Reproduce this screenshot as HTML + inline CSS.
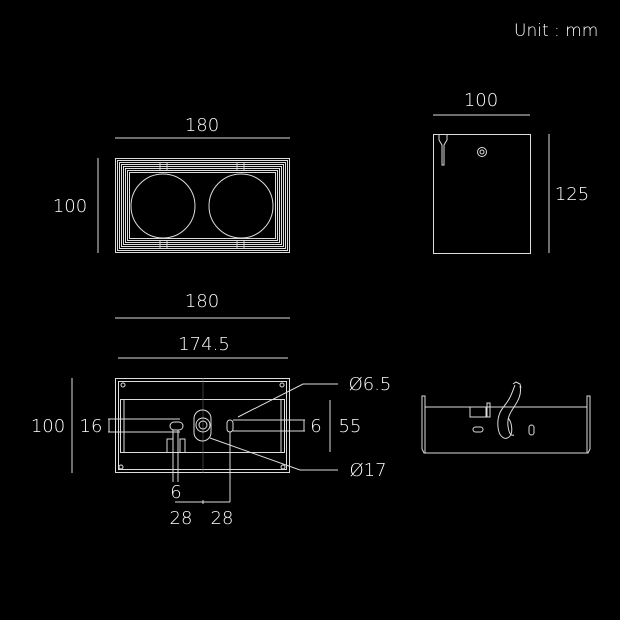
<!DOCTYPE html>
<html><head><meta charset="utf-8"><style>
html,body{margin:0;padding:0;background:#000;}
svg{display:block}
text{font-family:"DejaVu Sans","Liberation Sans",sans-serif;fill:#fff;font-weight:300}
</style></head><body>
<svg width="620" height="620" viewBox="0 0 620 620" xmlns="http://www.w3.org/2000/svg">
<rect width="620" height="620" fill="#000"/>
<g stroke="#ddd" fill="none" stroke-width="1">
<!-- top view -->
<line x1="115" y1="138" x2="290" y2="138"/>
<line x1="98" y1="158" x2="98" y2="253"/>
<rect x="115.5" y="158.5" width="174" height="94"/>
<rect x="117.5" y="160.5" width="170" height="90"/>
<rect x="119.5" y="162.5" width="166" height="86"/>
<rect x="121.5" y="164.5" width="162" height="82"/>
<rect x="123.5" y="166.5" width="158" height="78"/>
<rect x="125.5" y="168.5" width="154" height="74"/>
<rect x="127.5" y="170.5" width="150" height="70"/>
<rect x="129.5" y="172.5" width="146" height="66"/>
<circle cx="163" cy="206" r="32"/>
<circle cx="241" cy="206" r="32"/>
<path d="M160 162v8M167 162v8M237 162v8M244 162v8M160 241v8M167 241v8M237 241v8M244 241v8"/>
<!-- side view -->
<line x1="433" y1="115" x2="530" y2="115"/>
<rect x="433.5" y="134.5" width="97" height="119"/>
<line x1="549" y1="134" x2="549" y2="253"/>
<path d="M439 134v6l3 5v20h2v-20l3-5v-6"/>
<circle cx="482" cy="152" r="4.5"/><circle cx="482" cy="152" r="2"/>
<!-- bottom view -->
<line x1="115" y1="318" x2="290" y2="318"/>
<line x1="118" y1="358" x2="288" y2="358"/>
<line x1="72" y1="378" x2="72" y2="473"/>
<rect x="115.5" y="378.5" width="174" height="94"/>
<rect x="118.5" y="381.5" width="168" height="88"/>
<rect x="120.5" y="399.5" width="164" height="53"/>
<line x1="124" y1="399" x2="124" y2="452"/><line x1="281" y1="399" x2="281" y2="452"/>
<circle cx="123" cy="385" r="2"/><circle cx="282" cy="385" r="2"/>
<circle cx="121" cy="467" r="2"/><circle cx="283" cy="467" r="2"/>
<line x1="203" y1="378" x2="203" y2="473" stroke="#666" stroke-width="0.6"/>
<line x1="108" y1="419" x2="180" y2="419"/><line x1="108" y1="432" x2="180" y2="432"/>
<line x1="109" y1="419" x2="109" y2="432"/>
<rect x="170" y="422" width="13" height="8" rx="4"/>
<path d="M167 452v-13h6v13M185 452v-13h-5v13" />
<line x1="173" y1="430" x2="173" y2="482"/><line x1="178" y1="430" x2="178" y2="482"/>
<rect x="194" y="410" width="17" height="31" rx="8.5"/>
<circle cx="203" cy="425" r="7"/><circle cx="203" cy="425" r="4"/>
<rect x="227" y="420" width="6" height="12" rx="3"/>
<line x1="233" y1="420" x2="305" y2="420"/><line x1="233" y1="431" x2="305" y2="431"/>
<line x1="304" y1="420" x2="304" y2="431"/>
<line x1="330" y1="400" x2="330" y2="452"/>
<polyline points="238,417 303,384 338,384"/>
<polyline points="210,438 300,470 338,470"/>
<line x1="230" y1="432" x2="230" y2="502"/>
<line x1="175" y1="502" x2="230" y2="502"/>
<line x1="203" y1="500" x2="203" y2="504"/>
<!-- front right -->
<path d="M422 396h3v11h162v-11h3v53l-2 4h-164l-2-4z"/>
<line x1="425" y1="407" x2="425" y2="453"/><line x1="587" y1="407" x2="587" y2="453"/>
<path d="M470 407v10h16v-10M487 403v14h3v-14z"/>
<rect x="473" y="427" width="10" height="5" rx="2.5"/>
<rect x="529" y="425" width="5" height="10" rx="2.5"/>
<path d="M515 385c-3 8 -5 14 -10 20c-5 6 -8 12 -7 22c1 11 8 14 12 9c3 -4 2 -14 -2 -18"/>
<path d="M520 386c2 8 -2 15 -6 21c-4 6 -7 11 -6 19c1 8 3 10 6 9"/>
<path d="M513 384l3 -2l4 2l1 4"/>
</g>
<g font-size="18">
<text x="514" y="36" font-size="17">Unit : mm</text>
<text x="202" y="131" text-anchor="middle">180</text>
<text x="70" y="212" text-anchor="middle">100</text>
<text x="481" y="106" text-anchor="middle">100</text>
<text x="572" y="200" text-anchor="middle">125</text>
<text x="202" y="307" text-anchor="middle">180</text>
<text x="204" y="350" text-anchor="middle">174.5</text>
<text x="48" y="432" text-anchor="middle">100</text>
<text x="91" y="432" text-anchor="middle">16</text>
<text x="316" y="432" text-anchor="middle">6</text>
<text x="350" y="432" text-anchor="middle">55</text>
<text x="370" y="390" text-anchor="middle">Ø6.5</text>
<text x="368" y="476" text-anchor="middle">Ø17</text>
<text x="176" y="498" text-anchor="middle">6</text>
<text x="181" y="524" text-anchor="middle">28</text>
<text x="222" y="524" text-anchor="middle">28</text>
</g>
</svg>
</body></html>
